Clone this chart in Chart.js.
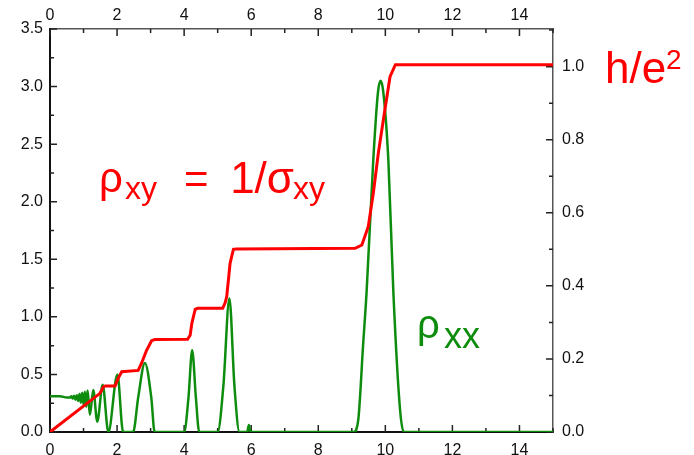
<!DOCTYPE html>
<html lang="en">
<head>
  <meta charset="UTF-8" />
  <title>Quantum Hall effect</title>
  <script src="https://cdn.jsdelivr.net/npm/chart.js"></script>
  <style>
    body { margin: 0; background: #ffffff; overflow: hidden; }
    #wrap { position: relative; width: 694px; height: 470px; }
  </style>
</head>
<body>
  <div id="wrap"><canvas id="qhe" width="694" height="470"></canvas></div>

  <script>
    // field axis (top and bottom) and the two resistance axes
    const fieldTicks = [0, 2, 4, 6, 8, 10, 12, 14];
    const leftTicks = [0, 0.5, 1.0, 1.5, 2.0, 2.5, 3.0, 3.5];
    const rightTicks = [0, 0.2, 0.4, 0.6, 0.8, 1.0];

    // rho_xy (red), left axis units
    const rhoXyB = [0, 1.49, 1.6, 1.65, 1.94, 2.04, 2.14, 2.63, 2.73, 2.88, 3.03, 3.13, 4.1, 4.18, 4.23, 4.33, 4.4,
      5.15, 5.22, 5.27, 5.37, 5.47, 5.55, 9.1, 9.3, 9.49, 9.64, 9.79, 9.94, 10.14, 10.3, 10.4, 15];
    const rhoXyVal = [0, 0.336, 0.393, 0.40, 0.40, 0.47, 0.524, 0.535, 0.597, 0.71, 0.793, 0.803, 0.805, 0.84, 0.944, 1.066, 1.074,
      1.074, 1.12, 1.175, 1.465, 1.587, 1.59, 1.595, 1.624, 1.783, 2.07, 2.42, 2.71, 3.086, 3.19, 3.19, 3.19];

    // rho_xx (green)
    const rhoXxB = [0, 0.3, 0.5, 0.6, 0.64, 0.68, 0.72, 0.76, 0.8, 0.84, 0.88, 0.92, 0.96, 1.0, 1.04, 1.08, 1.12,
      1.19, 1.29, 1.41, 1.57, 1.74, 2.01, 2.18, 2.48, 2.63, 2.83, 3.02, 3.12, 4.0, 4.13, 4.24, 4.35, 4.45,
      5.0, 5.17, 5.35, 5.5, 5.65, 5.88, 5.93, 5.98, 9.05, 9.19, 9.34, 9.44, 9.64, 9.78, 9.86, 9.94, 10.09, 10.24, 10.44, 10.55, 15];
    const rhoXxVal = [0.31, 0.31, 0.30, 0.30, 0.31, 0.29, 0.315, 0.28, 0.32, 0.27, 0.33, 0.255, 0.34, 0.24, 0.35, 0.22, 0.36,
      0.15, 0.365, 0.09, 0.41, 0, 0.50, 0, 0, 0.3, 0.60, 0.3, 0, 0, 0.3, 0.71, 0.3, 0,
      0, 0.4, 1.16, 0.4, 0, 0, 0.06, 0, 0, 0.1, 0.77, 1.21, 2.36, 2.95, 3.05, 2.95, 2.36, 1.21, 0.19, 0, 0];

    const RED = '#ff0000';
    const GREEN = '#0e8c0e';
    const FONT = '"Liberation Sans", Arial, sans-serif';
    const tickFont = { family: FONT, size: 16 };

    const toPoints = (xs, ys) => xs.map((x, i) => ({ x: x, y: ys[i] }));
    const fixTicks = list => scale => { scale.ticks = list.map(v => ({ value: v })); };

    // inward tick marks on all four sides
    const inwardTicks = {
      id: 'inwardTicks',
      beforeDatasetsDraw(chart) {
        const { ctx, chartArea: a, scales } = chart;
        ctx.save();
        ctx.strokeStyle = '#222';
        ctx.lineWidth = 1.5;
        ctx.beginPath();
        for (let v = 0; v <= 15; v++) {
          const len = v % 2 === 0 ? 7 : 4;
          const px = scales.x.getPixelForValue(v);
          ctx.moveTo(px, a.bottom); ctx.lineTo(px, a.bottom - len);
          ctx.moveTo(px, a.top); ctx.lineTo(px, a.top + len);
        }
        for (let i = 0; i <= 14; i++) {
          const len = i % 2 === 0 ? 7 : 4;
          const py = scales.y.getPixelForValue(i * 0.25);
          ctx.moveTo(a.left, py); ctx.lineTo(a.left + len, py);
        }
        for (let i = 0; i <= 11; i++) {
          const len = i % 2 === 0 ? 7 : 4;
          const py = scales.yRight.getPixelForValue(i * 0.1);
          ctx.moveTo(a.right, py); ctx.lineTo(a.right - len, py);
        }
        ctx.stroke();
        ctx.restore();
      }
    };

    // rho_xy, rho_xx and h/e^2 annotations
    const annotations = {
      id: 'annotations',
      afterDraw(chart) {
        const c = chart.ctx;
        c.save();
        c.textBaseline = 'alphabetic';
        c.textAlign = 'left';
        c.fillStyle = RED;
        c.font = '42px ' + FONT;
        c.fillText('ρ', 99, 192);
        c.fillText('=', 184, 193);
        c.textAlign = 'right';
        c.font = '44px ' + FONT;
        c.fillText('1/σ', 294, 193);
        c.textAlign = 'left';
        c.font = '32px ' + FONT;
        c.fillText('xy', 125, 199);
        c.fillText('xy', 293, 199);
        c.font = '44px ' + FONT;
        c.fillText('h/e', 605, 83);
        c.font = '28px ' + FONT;
        c.fillText('2', 666, 69);
        c.fillStyle = GREEN;
        c.font = '40px ' + FONT;
        c.fillText('ρ', 417, 338);
        c.font = '36px ' + FONT;
        c.fillText('xx', 444, 348);
        c.restore();
      }
    };

    new Chart(document.getElementById('qhe'), {
      type: 'line',
      data: {
        datasets: [
          {
            label: 'rho_xy',
            data: toPoints(rhoXyB, rhoXyVal),
            borderColor: RED,
            borderWidth: 3,
            pointRadius: 0,
            tension: 0,
            xAxisID: 'x',
            yAxisID: 'y'
          },
          {
            label: 'rho_xx',
            data: toPoints(rhoXxB, rhoXxVal),
            borderColor: GREEN,
            borderWidth: 2.5,
            pointRadius: 0,
            cubicInterpolationMode: 'monotone',
            xAxisID: 'x',
            yAxisID: 'y'
          }
        ]
      },
      options: {
        responsive: false,
        animation: false,
        devicePixelRatio: 1,
        layout: { padding: 0 },
        plugins: { legend: { display: false }, tooltip: { enabled: false } },
        scales: {
          x: {
            type: 'linear', position: 'bottom', min: 0, max: 15,
            afterBuildTicks: fixTicks(fieldTicks),
            afterFit: s => { s.height = 38; },
            grid: { display: false, drawTicks: false },
            border: { color: '#111', width: 2 },
            ticks: { font: tickFont, color: '#111', padding: 9, callback: v => String(v) }
          },
          xTop: {
            type: 'linear', position: 'top', min: 0, max: 15,
            afterBuildTicks: fixTicks(fieldTicks),
            afterFit: s => { s.height = 29; },
            grid: { display: false, drawTicks: false },
            border: { color: '#555', width: 1.5 },
            ticks: { font: tickFont, color: '#111', padding: 4, callback: v => String(v) }
          },
          y: {
            type: 'linear', position: 'left', min: 0, max: 3.5,
            afterBuildTicks: fixTicks(leftTicks),
            afterFit: s => { s.width = 50; },
            grid: { display: false, drawTicks: false },
            border: { color: '#111', width: 2 },
            ticks: { font: tickFont, color: '#111', padding: 7, callback: v => v.toFixed(1) }
          },
          yRight: {
            type: 'linear', position: 'right', min: 0, max: 1.103,
            afterBuildTicks: fixTicks(rightTicks),
            afterFit: s => { s.width = 141; },
            grid: { display: false, drawTicks: false },
            border: { color: '#555', width: 1.5 },
            ticks: { font: tickFont, color: '#111', padding: 9, callback: v => v.toFixed(1) }
          }
        }
      },
      plugins: [inwardTicks, annotations]
    });
  </script>
</body>
</html>
